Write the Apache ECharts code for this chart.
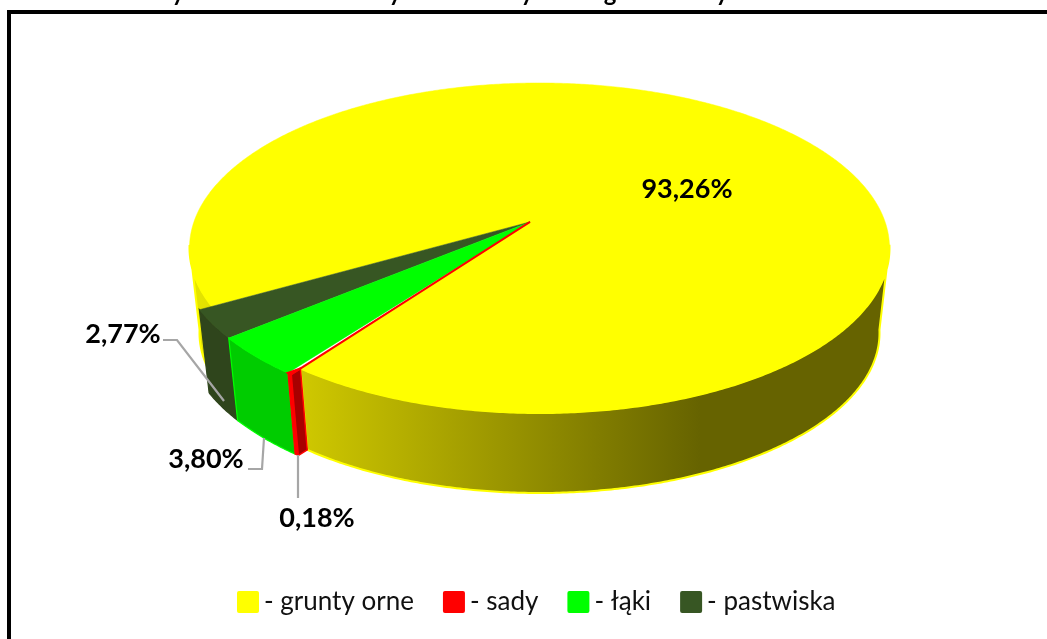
<!DOCTYPE html>
<html>
<head>
<meta charset="utf-8">
<style>html,body{margin:0;padding:0;background:#fff}#main{width:1047px;height:639px}</style>
<script src="https://cdn.jsdelivr.net/npm/echarts@6/dist/echarts.min.js"></script>
</head>
<body>
<div id="main"></div>
<script>
const categories = ['grunty orne', 'sady', 'łąki', 'pastwiska'];
const shares = [93.26, 0.18, 3.80, 2.77];
const topColors = ['#ffff00', '#ff0000', '#00ff00', '#375623'];
// descenders of the cut-off title, the only part left in the picture
const titleGlyphs = ['y', 'y', 'y', 'g', 'y'];
const titleGlyphX = [178, 395, 527, 610, 722];

const START_DEG = 150.5;
const TILT_Y = -0.158, TILT_X = -0.027;
const LEVELS = [
  { cx: 539.5, cy: 248, rx: 350, ry: 165 },
  { cx: 539.5, cy: 333, rx: 340, ry: 160 }
];
// small slices stick out of the pie a bit
const PULL = [1, 1.04, 1.04, 1.04];
// where the side of the pie leaves the top ellipse, right and left
const SIDE_RIGHT_DEG = 8, SIDE_LEFT_DEG = 172;
const LABELS = [
  { x: 687, y: 189 },
  { x: 317, y: 518, leader: [[298, 455], [298, 498]] },
  { x: 206, y: 459, leader: [[264, 438], [262, 469], [248, 469]] },
  { x: 123, y: 334, leader: [[224, 401], [177, 340], [163, 340]] }
];

const yellowWall = {
  type: 'linear', x: 190, y: 0, x2: 700, y2: 0, global: true,
  colorStops: [
    { offset: 0, color: '#e6e600' },
    { offset: 0.22, color: '#cfc800' },
    { offset: 1, color: '#666300' }
  ]
};
const wallColors = [yellowWall, '#ff0000', '#00cc00', '#2f451c'];
const wallBorders = ['#ffff00', '#ff0000', '#00ff00', '#2f451c'];
const order = [1, 4, 3, 2]; // drawn over each other in this order

const total = shares.reduce((a, b) => a + b, 0);
const sliceStart = [];
shares.reduce((acc, v, i) => { sliceStart[i] = acc; return acc + v / total * 360; }, START_DEG);

function unit(deg) {
  const t = deg * Math.PI / 180;
  const c = Math.cos(t), s = Math.sin(t);
  const d1 = 1 + TILT_Y * s;
  const x1 = c * Math.sqrt(1 - TILT_Y * TILT_Y) / d1;
  const y1 = (s + TILT_Y) / d1;
  const d2 = 1 + TILT_X * x1;
  return [(x1 + TILT_X) / d2, y1 * Math.sqrt(1 - TILT_X * TILT_X) / d2];
}
function apex(level) {
  const l = LEVELS[level];
  return [l.cx + l.rx * TILT_X, l.cy + l.ry * TILT_Y];
}
function rimPoint(deg, pull, level) {
  const l = LEVELS[level], u = unit(deg), a = apex(level);
  return [a[0] + (l.cx + l.rx * u[0] - a[0]) * pull, a[1] + (l.cy + l.ry * u[1] - a[1]) * pull];
}
function arc(from, to, pull, level) {
  const pts = [];
  const n = Math.max(2, Math.ceil((to - from) / 0.5));
  for (let i = 0; i <= n; i++) pts.push(rimPoint(from + (to - from) * i / n, pull, level));
  return pts;
}
function wallPolygon(from, to, pull, fill, stroke, width, z) {
  return {
    type: 'polygon', z2: z,
    shape: { points: arc(from, to, pull, 0).concat(arc(from, to, pull, 1).reverse()) },
    style: { fill, stroke, lineWidth: width }
  };
}

function renderSlice(i) {
  const from = sliceStart[i], to = from + shares[i] / total * 360;
  const pull = PULL[i], z = order[i] * 10;
  const children = [];
  if (i === 0) {
    // the big slice wraps round the back, only its two visible stretches get a wall
    children.push(wallPolygon(from, SIDE_LEFT_DEG, pull, wallColors[i], wallBorders[i], 2, z));
    children.push(wallPolygon(SIDE_RIGHT_DEG + 360, to, pull, wallColors[i], wallBorders[i], 2, z));
  } else {
    children.push(wallPolygon(from, to, pull, wallColors[i], wallBorders[i], 1.2, z));
  }
  if (i === 1) {
    // cut face of the pulled out red slice
    children.push({
      type: 'polygon', z2: z + 1,
      shape: { points: [rimPoint(from, pull, 0), rimPoint(from, 1, 0), rimPoint(from, 1, 1), rimPoint(from, pull, 1)] },
      style: { fill: '#a80000', stroke: '#ff0000', lineWidth: 1.5 }
    });
  }
  const top = [apex(0)].concat(arc(from, to, pull, 0));
  if (i === 1) top.push(rimPoint(from, 1, 0));
  children.push({
    type: 'polygon', shape: { points: top }, z2: z + 2,
    style: { fill: topColors[i], stroke: topColors[i], lineWidth: i === 1 ? 2 : 0.5 }
  });
  const lab = LABELS[i];
  if (lab.leader) {
    children.push({
      type: 'polyline', shape: { points: lab.leader }, z2: 100,
      style: { fill: null, stroke: '#a6a6a6', lineWidth: 2.2 }
    });
  }
  children.push({
    type: 'text', x: lab.x, y: lab.y, z2: 101,
    style: {
      text: shares[i].toFixed(2).replace('.', ',') + '%',
      fill: '#000', font: 'bold 27px Lato', align: 'center', verticalAlign: 'middle'
    }
  });
  return { type: 'group', children };
}

const chart = echarts.init(document.getElementById('main'), null, { renderer: 'canvas' });
chart.setOption({
  animation: false,
  backgroundColor: '#fff',
  legend: {
    data: categories,
    left: 237,
    top: 589,
    padding: 0,
    icon: 'path://M2 0H20A2 2 0 0 1 22 2V20A2 2 0 0 1 20 22H2A2 2 0 0 1 0 20V2A2 2 0 0 1 2 0Z',
    itemWidth: 22,
    itemHeight: 22,
    itemGap: 29,
    selectedMode: false,
    formatter: '- {name}',
    textStyle: { fontFamily: 'Lato', fontSize: 26, color: '#111' }
  },
  series: categories.map((name, i) => ({
    type: 'custom',
    name,
    coordinateSystem: 'none',
    silent: true,
    itemStyle: { color: topColors[i] },
    data: [shares[i]],
    renderItem: () => renderSlice(i)
  })),
  graphic: [
    {
      type: 'polyline', silent: true,
      shape: { points: [[9, 639], [9, 12], [1047, 12]] },
      style: { fill: null, stroke: '#000', lineWidth: 4 }
    }
  ].concat(titleGlyphs.map((g, i) => ({
    type: 'text', silent: true, x: titleGlyphX[i], y: 5,
    style: { text: g, fill: '#000', font: 'bold 24px Lato', align: 'center', verticalAlign: 'bottom' }
  })))
});
</script>
</body>
</html>
